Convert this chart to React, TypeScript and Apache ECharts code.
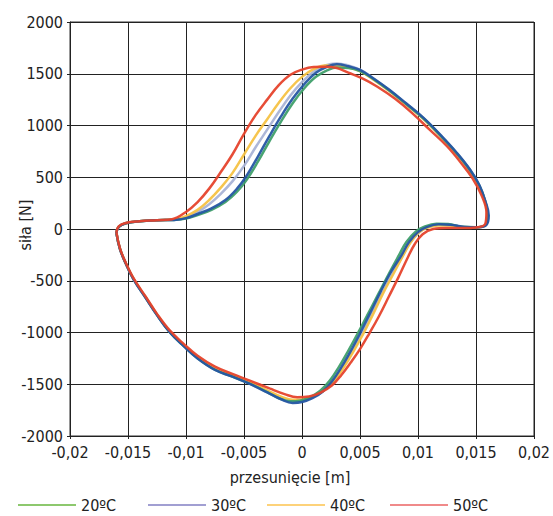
import React, { useEffect, useRef } from "react";
import * as echarts from "echarts";

const seriesNames = ["20ºC", "30ºC", "40ºC", "50ºC"];
const lineColors = ["#3f9f6a", "#a9b3d6", "#f6c244", "#e6432c"];
const legendColors = ["#8dc86e", "#a19fd2", "#fdd27a", "#f08a8a"];
const blueName = "20ºC (2)";
const blueColor = "#2556a3";

const loop20: number[][] = [
  [-0.016, -40], [-0.0158, 20], [-0.0152, 55], [-0.014, 75], [-0.0125, 85], [-0.011, 88],
  [-0.01, 100], [-0.009, 135], [-0.0078, 185], [-0.0066, 260], [-0.0056, 360], [-0.0048, 470],
  [-0.0038, 650], [-0.0028, 850], [-0.0018, 1040], [-0.0008, 1215], [0.0002, 1360], [0.0012, 1470],
  [0.0022, 1535], [0.003, 1560], [0.004, 1555], [0.005, 1525], [0.0062, 1445], [0.0075, 1340],
  [0.009, 1205], [0.0105, 1065], [0.012, 895], [0.0133, 735], [0.0145, 565], [0.0153, 415],
  [0.0158, 265], [0.016, 125], [0.0158, 38], [0.015, 18], [0.0138, 22], [0.0126, 48],
  [0.0116, 50], [0.0106, 25], [0.0098, -25], [0.009, -125], [0.0084, -245], [0.0075, -430],
  [0.0066, -625], [0.0056, -840], [0.0048, -1010], [0.004, -1175], [0.0032, -1330], [0.0024, -1465],
  [0.0016, -1560], [0.0007, -1625], [-0.0002, -1660], [-0.001, -1665], [-0.002, -1635], [-0.003, -1575],
  [-0.0045, -1495], [-0.006, -1425], [-0.0075, -1360], [-0.009, -1250], [-0.0102, -1130], [-0.0114, -996],
  [-0.0125, -830], [-0.0135, -660], [-0.0145, -490], [-0.0152, -330], [-0.0157, -190], [-0.016, -40],
];

const loop30: number[][] = [
  [-0.016, -38], [-0.0158, 21], [-0.0152, 55], [-0.014, 75], [-0.0125, 85], [-0.011, 90],
  [-0.01, 112], [-0.009, 165], [-0.008, 240], [-0.007, 340], [-0.006, 460], [-0.005, 610],
  [-0.004, 790], [-0.003, 960], [-0.002, 1130], [-0.001, 1290], [0.0, 1420], [0.001, 1520],
  [0.002, 1580], [0.003, 1600], [0.004, 1580], [0.005, 1540], [0.0062, 1452], [0.0075, 1345],
  [0.009, 1210], [0.0105, 1068], [0.012, 898], [0.0133, 738], [0.0145, 568], [0.0153, 418],
  [0.0158, 268], [0.016, 128], [0.0158, 38], [0.0151, 17], [0.0139, 19], [0.0128, 38],
  [0.0118, 40], [0.0108, 15], [0.0101, -35], [0.0093, -135], [0.0087, -255], [0.0078, -435],
  [0.0069, -625], [0.006, -830], [0.0052, -1010], [0.0044, -1175], [0.0036, -1325], [0.0028, -1455],
  [0.0019, -1555], [0.001, -1620], [0.0, -1658], [-0.0008, -1662], [-0.0018, -1630], [-0.003, -1565],
  [-0.0045, -1488], [-0.006, -1420], [-0.0075, -1355], [-0.009, -1245], [-0.0102, -1125], [-0.0114, -993],
  [-0.0125, -828], [-0.0135, -658], [-0.0145, -488], [-0.0152, -329], [-0.0157, -189], [-0.016, -38],
];

const loop40: number[][] = [
  [-0.016, -35], [-0.0158, 22], [-0.0152, 56], [-0.014, 75], [-0.0125, 85], [-0.011, 92],
  [-0.01, 125], [-0.009, 185], [-0.008, 280], [-0.007, 400], [-0.006, 540], [-0.005, 720],
  [-0.004, 900], [-0.003, 1060], [-0.002, 1220], [-0.001, 1360], [0.0, 1470], [0.001, 1545],
  [0.002, 1580], [0.003, 1580], [0.004, 1560], [0.005, 1525], [0.0062, 1440], [0.0075, 1335],
  [0.009, 1200], [0.0105, 1060], [0.012, 890], [0.0133, 730], [0.0145, 560], [0.0153, 410],
  [0.0158, 260], [0.016, 120], [0.0158, 35], [0.015, 15], [0.0138, 18], [0.0127, 35],
  [0.0117, 35], [0.0107, 10], [0.01, -40], [0.0093, -140], [0.0087, -260], [0.0079, -430],
  [0.007, -620], [0.0061, -830], [0.0053, -1010], [0.0045, -1170], [0.0037, -1320], [0.0029, -1450],
  [0.002, -1550], [0.001, -1615], [0.0, -1648], [-0.0008, -1650], [-0.0018, -1620], [-0.003, -1560],
  [-0.0045, -1480], [-0.006, -1415], [-0.0075, -1350], [-0.009, -1240], [-0.0102, -1120], [-0.0114, -990],
  [-0.0125, -825], [-0.0135, -655], [-0.0145, -485], [-0.0152, -328], [-0.0157, -188], [-0.016, -35],
];

const loop50: number[][] = [
  [-0.016, -30], [-0.0158, 25], [-0.0152, 58], [-0.014, 75], [-0.0125, 85], [-0.0112, 95],
  [-0.01, 165], [-0.009, 260], [-0.008, 390], [-0.007, 550], [-0.006, 720], [-0.005, 920],
  [-0.004, 1100], [-0.003, 1250], [-0.002, 1390], [-0.001, 1490], [0.0, 1540], [0.001, 1565],
  [0.002, 1568], [0.003, 1555], [0.004, 1510], [0.0052, 1455], [0.0065, 1375], [0.008, 1260],
  [0.0095, 1120], [0.011, 960], [0.0125, 800], [0.0137, 640], [0.0147, 490], [0.0155, 320],
  [0.0159, 160], [0.0158, 50], [0.015, 15], [0.0138, 10], [0.0125, 10], [0.0113, 0],
  [0.0104, -50], [0.0097, -150], [0.0091, -280], [0.0083, -470], [0.0075, -650], [0.0066, -850],
  [0.0058, -1010], [0.005, -1160], [0.0042, -1290], [0.0034, -1410], [0.0026, -1510], [0.0016, -1580],
  [0.0006, -1618], [-0.0004, -1625], [-0.0015, -1595], [-0.0028, -1540], [-0.0045, -1465], [-0.006, -1400],
  [-0.0075, -1330], [-0.009, -1225], [-0.0102, -1110], [-0.0114, -980], [-0.0125, -820], [-0.0135, -650],
  [-0.0145, -480], [-0.0152, -325], [-0.0157, -185], [-0.016, -30],
];

const loopBlue: number[][] = [
  [-0.016, -40], [-0.0158, 20], [-0.0152, 55], [-0.014, 75], [-0.0125, 85], [-0.011, 88],
  [-0.01, 105], [-0.009, 145], [-0.0078, 200], [-0.0066, 280], [-0.0056, 390], [-0.0048, 510],
  [-0.0038, 700], [-0.0028, 900], [-0.0018, 1090], [-0.0008, 1260], [0.0002, 1400], [0.0012, 1510],
  [0.0022, 1570], [0.003, 1592], [0.004, 1572], [0.005, 1537], [0.0062, 1452], [0.0075, 1347],
  [0.009, 1212], [0.0105, 1072], [0.012, 902], [0.0133, 742], [0.0145, 572], [0.0153, 422],
  [0.0158, 272], [0.0161, 130], [0.0159, 40], [0.0152, 18], [0.014, 20], [0.0128, 42],
  [0.0118, 45], [0.0108, 20], [0.01, -30], [0.0092, -130], [0.0086, -250], [0.0077, -410],
  [0.0068, -600], [0.0058, -830], [0.005, -1010], [0.0042, -1180], [0.0034, -1335], [0.0026, -1470],
  [0.0018, -1570], [0.0009, -1635], [0.0, -1672], [-0.0008, -1680], [-0.0018, -1645], [-0.003, -1578],
  [-0.0045, -1497], [-0.006, -1427], [-0.0075, -1362], [-0.009, -1252], [-0.0102, -1132], [-0.0114, -998],
  [-0.0125, -832], [-0.0135, -662], [-0.0145, -492], [-0.0152, -332], [-0.0157, -192], [-0.016, -40],
];

const seriesData = [loop20, loop30, loop40, loop50];
const legendLefts = [18, 148, 267, 390];

const FONT = "'DejaVu Sans Condensed', 'Liberation Sans Narrow', sans-serif";
const FS = 16;

const fmtX = (v: number) => String(Number(v.toFixed(4))).replace(".", ",");
const fmtY = (v: number) => String(Math.round(v));

export default function App() {
  const ref = useRef<HTMLDivElement>(null);
  useEffect(() => {
    if (!ref.current) return;
    const chart = echarts.init(ref.current, undefined, { renderer: "svg" });
    const mk = (name: string, data: number[][], color: string) => ({
      type: "line",
      name,
      data,
      smooth: 0.4,
      showSymbol: false,
      symbol: "none",
      lineStyle: { color, width: 2.5, opacity: 0.95 },
      itemStyle: { color },
      z: 2,
    });
    const order = [1, 2, 0];
    const series: any[] = [];
    order.forEach((i) => series.push(mk(seriesNames[i], seriesData[i], lineColors[i])));
    series.push(mk(blueName, loopBlue, blueColor));
    series.push(mk(seriesNames[3], seriesData[3], lineColors[3]));

    chart.setOption({
      animation: false,
      backgroundColor: "#ffffff",
      textStyle: { fontFamily: FONT },
      grid: { left: 70, right: 16, top: 22, bottom: 80, show: true, borderColor: "#333", borderWidth: 1 },
      legend: seriesNames.map((n, i) => ({
        data: [{ name: n, icon: "rect", itemStyle: { color: legendColors[i] } }],
        left: legendLefts[i],
        top: 497,
        itemWidth: 58,
        itemHeight: 2,
        itemGap: 4,
        padding: 0,
        selectedMode: false,
        textStyle: { fontFamily: FONT, fontSize: FS, color: "#222" },
      })),
      xAxis: {
        type: "value",
        min: -0.02,
        max: 0.02,
        interval: 0.005,
        axisLine: { show: true, onZero: false, lineStyle: { color: "#222", width: 1 } },
        axisTick: { show: true, length: 3, lineStyle: { color: "#222" } },
        axisLabel: { formatter: fmtX, fontFamily: FONT, fontSize: FS, color: "#222", margin: 8 },
        splitLine: { show: true, lineStyle: { color: "#222", width: 1 } },
      },
      yAxis: {
        type: "value",
        min: -2000,
        max: 2000,
        interval: 500,
        axisLine: { show: true, onZero: false, lineStyle: { color: "#222", width: 1 } },
        axisTick: { show: true, length: 3, lineStyle: { color: "#222" } },
        axisLabel: { formatter: fmtY, fontFamily: FONT, fontSize: FS, color: "#222", margin: 7 },
        splitLine: { show: true, lineStyle: { color: "#222", width: 1 } },
      },
      graphic: [
        {
          type: "text",
          x: 290,
          y: 477,
          style: { text: "przesunięcie [m]", fontFamily: FONT, fontSize: FS, fill: "#222", align: "center", verticalAlign: "middle" },
        },
        {
          type: "text",
          x: 25,
          y: 225,
          rotation: Math.PI / 2,
          style: { text: "siła [N]", fontFamily: FONT, fontSize: FS, fill: "#222", align: "center", verticalAlign: "middle" },
        },
      ],
      series,
    });
    return () => chart.dispose();
  }, []);
  return <div ref={ref} style={{ width: 553, height: 516, position: "absolute", left: 0, top: 0 }} />;
}
